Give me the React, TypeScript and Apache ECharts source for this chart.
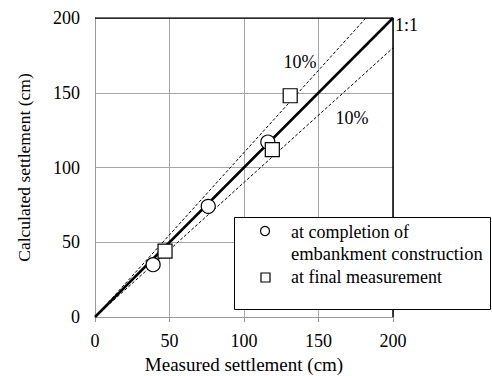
import React, { useEffect, useRef } from "react";
import * as echarts from "echarts";

const axisTicks = [0, 50, 100, 150, 200];
const completionPoints: [number, number][] = [
  [39, 35],
  [76, 74],
  [116, 117],
];
const finalPoints: [number, number][] = [
  [47, 44],
  [131, 148],
  [119, 112],
];
const oneToOne: [number, number][] = [
  [0, 0],
  [200, 200],
];
const upper10: [number, number][] = [
  [0, 0],
  [200 / 1.1, 200],
];
const lower10: [number, number][] = [
  [0, 0],
  [200, 180],
];
const frameTopRight: [number, number][] = [
  [0, 200],
  [200, 200],
  [200, 0],
];
const legendNames = ["at completion of", "embankment construction", "at final measurement"];

const FONT = "'Liberation Serif', 'Times New Roman', serif";

export default function App() {
  const ref = useRef<HTMLDivElement>(null);
  useEffect(() => {
    if (!ref.current) return;
    const chart = echarts.init(ref.current, undefined, { renderer: "svg" });
    const txt = (text: string, x: number, y: number, size = 18, align = "left") => ({
      type: "text",
      x,
      y,
      z: 20,
      style: {
        text,
        fontFamily: FONT,
        fontSize: size,
        fill: "#000",
        align,
        verticalAlign: "middle",
      },
    });
    chart.setOption({
      animation: false,
      backgroundColor: "#fff",
      textStyle: { fontFamily: FONT, color: "#000" },
      grid: {
        left: 95,
        right: 99,
        top: 18,
        bottom: 59,
        containLabel: false,
        outerBoundsMode: "none",
      },
      xAxis: {
        type: "value",
        min: axisTicks[0],
        max: axisTicks[axisTicks.length - 1],
        interval: 50,
        name: "Measured settlement (cm)",
        nameLocation: "middle",
        nameGap: 38,
        nameTextStyle: { fontFamily: FONT, fontSize: 19, color: "#000" },
        axisLine: { lineStyle: { color: "#999", width: 1 } },
        axisTick: { show: true, length: 5, lineStyle: { color: "#999" } },
        splitLine: { show: true, lineStyle: { color: "#a6a6a6", width: 1 } },
        axisLabel: { fontFamily: FONT, fontSize: 18, color: "#000", margin: 15 },
      },
      yAxis: {
        type: "value",
        min: axisTicks[0],
        max: axisTicks[axisTicks.length - 1],
        interval: 50,
        name: "Calculated settlement (cm)",
        nameLocation: "middle",
        nameGap: 62,
        nameRotate: 90,
        nameTextStyle: { fontFamily: FONT, fontSize: 17.5, color: "#000" },
        axisLine: { lineStyle: { color: "#999", width: 1 } },
        axisTick: { show: false },
        splitLine: { show: true, lineStyle: { color: "#a6a6a6", width: 1 } },
        axisLabel: { fontFamily: FONT, fontSize: 18, color: "#000", margin: 15 },
      },
      series: [
        {
          type: "line",
          data: frameTopRight,
          symbol: "none",
          lineStyle: { color: "#000", width: 1.5 },
          z: 3,
        },
        {
          type: "line",
          data: upper10,
          symbol: "none",
          lineStyle: { color: "#000", width: 1, type: [3, 2] },
          z: 4,
        },
        {
          type: "line",
          data: lower10,
          symbol: "none",
          lineStyle: { color: "#000", width: 1, type: [3, 2] },
          z: 4,
        },
        {
          type: "line",
          data: oneToOne,
          symbol: "none",
          lineStyle: { color: "#000", width: 2.5 },
          z: 5,
        },
        {
          name: legendNames[0] + " " + legendNames[1],
          type: "scatter",
          data: completionPoints,
          symbol: "circle",
          symbolSize: 14,
          itemStyle: { color: "#fff", borderColor: "#000", borderWidth: 1.2, opacity: 1 },
          z: 6,
        },
        {
          name: legendNames[2],
          type: "scatter",
          data: finalPoints,
          symbol: "rect",
          symbolSize: 14,
          itemStyle: { color: "#fff", borderColor: "#000", borderWidth: 1.2, opacity: 1 },
          z: 6,
        },
      ],
      graphic: [
        txt("1:1", 395, 25, 18),
        txt("10%", 300, 62, 18, "center"),
        txt("10%", 352, 118, 18, "center"),
        {
          type: "rect",
          z: 15,
          shape: { x: 234.5, y: 217.5, width: 256, height: 92 },
          style: { fill: "#fff", stroke: "#000", lineWidth: 1 },
        },
        {
          type: "circle",
          z: 16,
          shape: { cx: 265, cy: 231, r: 4.5 },
          style: { fill: "#fff", stroke: "#000", lineWidth: 1.2 },
        },
        {
          type: "rect",
          z: 16,
          shape: { x: 261, y: 273, width: 9, height: 9 },
          style: { fill: "#fff", stroke: "#000", lineWidth: 1.2 },
        },
        txt(legendNames[0], 291, 232, 18),
        txt(legendNames[1], 291, 254, 18.5),
        txt(legendNames[2], 291, 277, 18),
      ],
    });
    return () => chart.dispose();
  }, []);
  return (
    <div
      ref={ref}
      style={{ position: "fixed", left: 0, top: 0, width: 492, height: 376 }}
    />
  );
}
